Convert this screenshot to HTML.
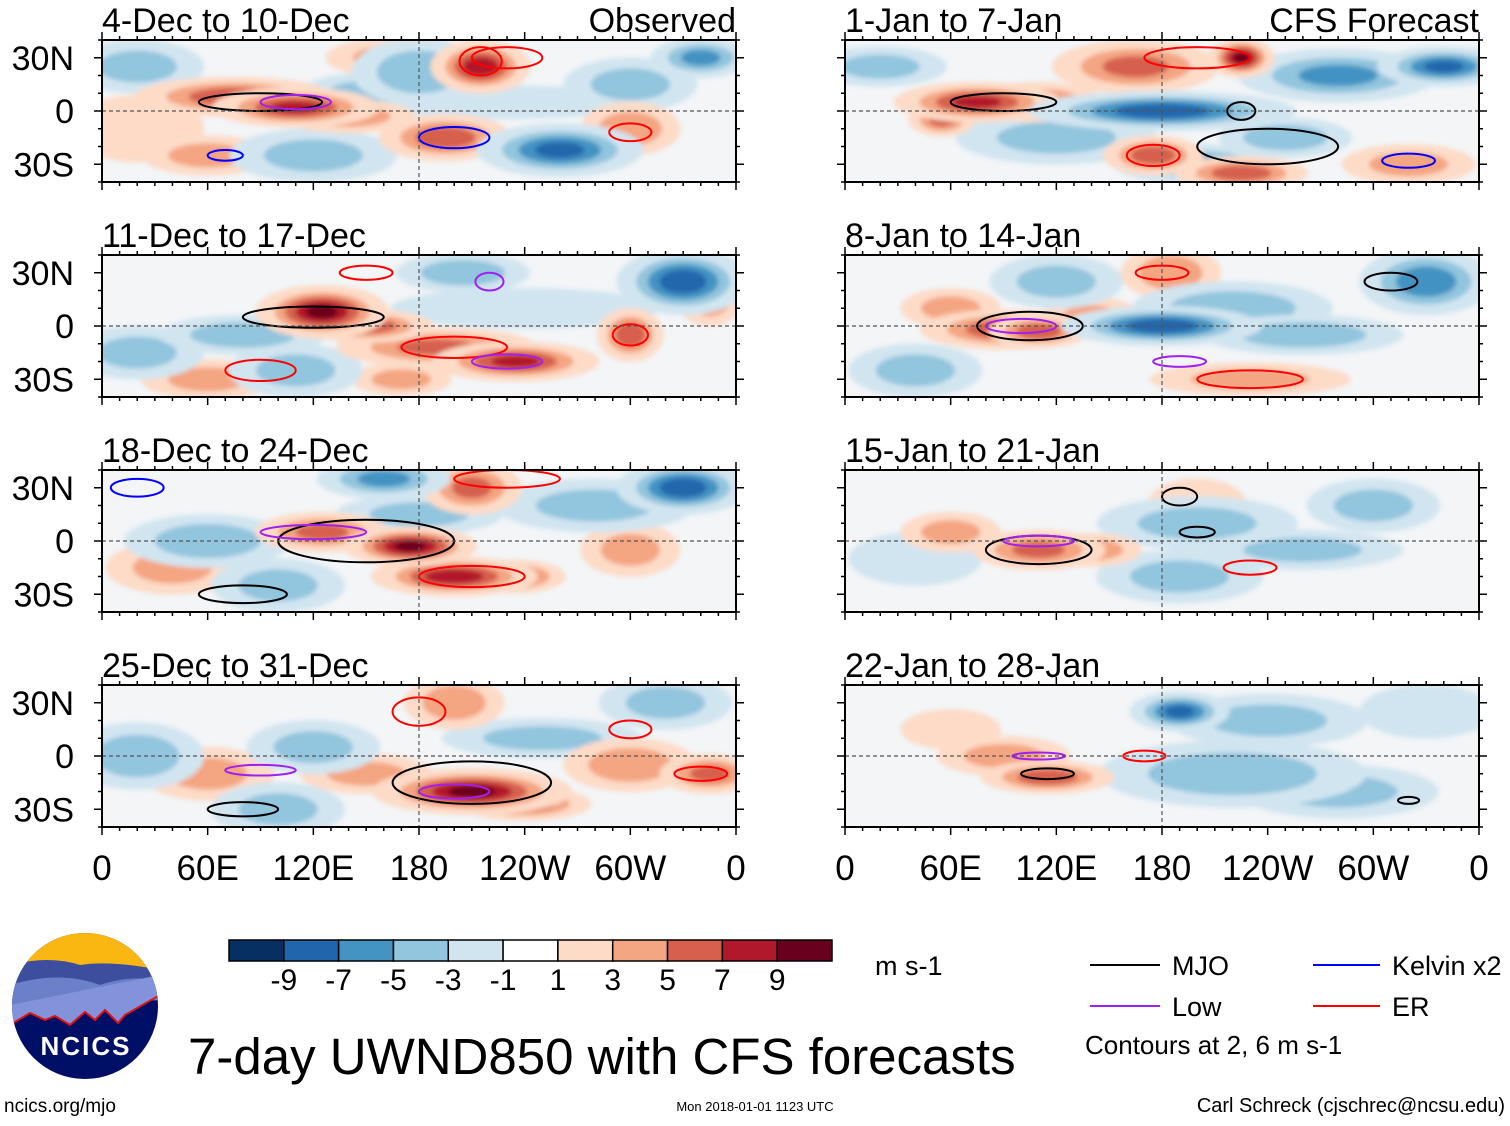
<!DOCTYPE html>
<html><head><meta charset="utf-8"><style>
body{margin:0;background:#fff;width:1510px;height:1121px;overflow:hidden;font-family:"Liberation Sans",sans-serif}
svg text{font-family:"Liberation Sans",sans-serif}
</style></head><body>
<svg id="fig" width="1510" height="1121" xmlns="http://www.w3.org/2000/svg">
<defs><filter id="bl" x="-50%" y="-50%" width="200%" height="200%"><feGaussianBlur stdDeviation="2.5"/></filter>
<clipPath id="logoclip"><circle cx="85" cy="1006" r="73"/></clipPath></defs>
<g id="panels"></g>
<g clip-path="url(#logoclip)">
<rect x="10" y="930" width="150" height="160" fill="#000f66"/>
<rect x="10" y="930" width="150" height="45" fill="#fbb711"/>
<path d="M10 965 Q50 955 80 965 Q110 960 160 970 L160 1000 L10 1000Z" fill="#3d4e9e"/>
<path d="M10 985 Q60 970 100 985 Q130 975 160 980 L160 1000 L10 1010Z" fill="#6c7fc9"/>
<path d="M10 1025 L30 1013 L45 1020 L55 1016 L70 1025 L85 1012 L95 1020 L105 1010 L118 1023 L125 1015 L160 995 L160 975 L10 1005Z" fill="#8293db"/>
<path d="M10 1025 L30 1013 L45 1020 L55 1016 L70 1025 L85 1012 L95 1020 L105 1010 L118 1023 L125 1015 L160 995" fill="none" stroke="#e01010" stroke-width="2"/>
</g>
<text x="86" y="1055" text-anchor="middle" font-size="26" font-weight="bold" fill="#fff" letter-spacing="2">NCICS</text>
<g id="cbar"></g>
<text x="875" y="975" font-size="27">m s-1</text>
<g>
<line x1="1090" y1="965" x2="1160" y2="965" stroke="#000" stroke-width="2"/><text x="1172" y="975" font-size="27">MJO</text>
<line x1="1090" y1="1006" x2="1160" y2="1006" stroke="#a020f0" stroke-width="2"/><text x="1172" y="1016" font-size="27">Low</text>
<line x1="1313" y1="965" x2="1380" y2="965" stroke="#0000ff" stroke-width="2"/><text x="1392" y="975" font-size="27">Kelvin x2</text>
<line x1="1313" y1="1006" x2="1380" y2="1006" stroke="#ff0000" stroke-width="2"/><text x="1392" y="1016" font-size="27">ER</text>
<text x="1085" y="1054" font-size="26">Contours at 2, 6 m s-1</text>
</g>
<text x="188" y="1074" font-size="51">7-day UWND850 with CFS forecasts</text>
<text x="4" y="1112" font-size="19">ncics.org/mjo</text>
<text x="755" y="1111" font-size="13" text-anchor="middle">Mon 2018-01-01 1123 UTC</text>
<text x="1505" y="1112" font-size="20" text-anchor="end">Carl Schreck (cjschrec@ncsu.edu)</text>
</svg>
<script>
const NS="http://www.w3.org/2000/svg";
const titles=["4-Dec to 10-Dec","11-Dec to 17-Dec","18-Dec to 24-Dec","25-Dec to 31-Dec","1-Jan to 7-Jan","8-Jan to 14-Jan","15-Jan to 21-Jan","22-Jan to 28-Jan"];
const lonTicks=[0,60,120,180,240,300,360];
const lonLabels=["0","60E","120E","180","120W","60W","0"];
const latTicks=[30,0,-30];
const latLabels=["30N","0","30S"];
const levels=[-9,-7,-5,-3,-1,1,3,5,7,9];
const cbColors=["#053061","#2166ac","#4393c3","#92c5de","#d1e5f0","#ffffff","#fddbc7","#f4a582","#d6604d","#b2182b","#67001f"];
// anomaly blobs: [lon, lat, lonRadius, latRadius, value m/s]
const blobs0=[[75,8,30,6,6],[110,2,25,6,7],[140,-3,20,5,4],[215,25,15,8,8],[195,-15,20,7,6],[250,-25,15,5,3],[60,-25,20,6,3],[300,-10,15,8,4],[20,-10,20,10,2],[165,30,20,6,3],[260,-22,25,8,-7],[180,22,20,10,-4],[150,10,20,6,-3],[340,30,15,6,-5],[120,-25,25,8,-3],[300,15,20,8,-3],[20,25,20,8,-3],[230,5,40,5,-2]];
const blobs1=[[125,8,20,8,9],[150,0,20,5,6],[190,-12,30,6,5],[235,-20,25,6,7],[300,-5,10,8,6],[345,15,10,8,4],[60,-30,20,6,3],[170,-30,15,5,3],[330,25,20,10,-8],[205,30,20,6,-4],[80,-5,25,6,-4],[20,-15,20,8,-3],[240,10,40,6,-2],[110,-25,20,8,-3]];
const blobs2=[[175,-3,20,6,9],[200,-20,25,6,8],[235,-20,15,5,6],[125,5,20,6,5],[210,30,15,8,5],[300,-5,15,8,3],[40,-15,20,8,3],[330,30,20,8,-8],[160,35,20,6,-5],[60,0,25,8,-4],[100,-25,20,8,-3],[280,20,30,8,-3],[180,15,25,6,-3]];
const blobs3=[[210,-20,30,7,9],[240,-27,20,5,6],[300,-5,20,8,4],[345,-10,15,6,5],[200,30,15,8,4],[60,-10,20,8,3],[150,-10,20,6,3],[20,0,20,10,-4],[120,5,20,8,-3],[250,10,30,6,-3],[320,30,20,8,-3],[100,-30,20,8,-3]];
const blobs4=[[75,5,25,6,7],[110,5,20,6,5],[225,30,10,6,9],[165,25,25,8,5],[175,-25,15,6,6],[225,-35,20,5,6],[55,-5,10,5,5],[320,-30,20,6,3],[180,0,40,6,-8],[280,20,30,8,-5],[340,25,20,6,-7],[200,-30,25,6,-5],[250,-15,20,6,-4],[120,-15,30,8,-3],[20,25,20,6,-3]];
const blobs5=[[90,-2,25,6,6],[110,-3,15,5,6],[140,5,15,6,3],[185,30,15,8,4],[60,10,15,6,3],[230,-30,30,5,3],[180,0,30,6,-8],[330,25,20,10,-6],[220,10,30,8,-4],[260,-5,30,6,-4],[40,-25,20,8,-3],[120,25,20,8,-3]];
const blobs6=[[110,-5,20,6,5],[140,-5,15,5,4],[60,5,15,6,3],[200,20,15,8,2],[200,10,30,8,-3],[260,-5,30,6,-3],[300,20,20,8,-3],[190,-20,25,8,-3],[40,-10,20,8,-2]];
const blobs7=[[115,-12,20,5,6],[90,0,20,6,3],[60,15,15,6,2],[190,25,15,6,-7],[220,-10,40,10,-4],[280,-20,30,8,-3],[240,20,30,8,-3],[330,25,20,8,-2]];
const allBlobs=[blobs0,blobs1,blobs2,blobs3,blobs4,blobs5,blobs6,blobs7];
// contours: [lon, lat, lonRadius, latRadius, type]
const contours=[
 [[90,5,35,5,"mjo"],[215,28,12,8,"er"],[200,-15,20,6,"kel"],[110,5,20,4,"low"],[70,-25,10,3,"kel"],[230,30,20,6,"er"],[300,-12,12,5,"er"]],
 [[120,5,40,6,"mjo"],[200,-12,30,6,"er"],[230,-20,20,4,"low"],[300,-5,10,6,"er"],[150,30,15,4,"er"],[90,-25,20,6,"er"],[220,25,8,5,"low"]],
 [[150,0,50,12,"mjo"],[210,-20,30,6,"er"],[120,5,30,4,"low"],[230,35,30,5,"er"],[80,-30,25,5,"mjo"],[20,30,15,5,"kel"]],
 [[210,-15,45,12,"mjo"],[200,-20,20,4,"low"],[180,25,15,8,"er"],[90,-8,20,3,"low"],[340,-10,15,4,"er"],[80,-30,20,4,"mjo"],[300,15,12,5,"er"]],
 [[200,30,30,6,"er"],[90,5,30,5,"mjo"],[175,-25,15,6,"er"],[240,-20,40,10,"mjo"],[320,-28,15,4,"kel"],[225,0,8,5,"mjo"]],
 [[105,0,30,8,"mjo"],[100,0,20,4,"low"],[180,30,15,4,"er"],[310,25,15,5,"mjo"],[230,-30,30,5,"er"],[190,-20,15,3,"low"]],
 [[110,-5,30,8,"mjo"],[110,0,20,3,"low"],[200,5,10,3,"mjo"],[230,-15,15,4,"er"],[190,25,10,5,"mjo"]],
 [[115,-10,15,3,"mjo"],[110,0,15,2,"low"],[170,0,12,3,"er"],[320,-25,6,2,"mjo"]]];
const cColor={mjo:"#000",low:"#a020f0",kel:"#0000ff",er:"#ff0000"};
const lefts=[102,845], W=634, H=142, tops=[40,255,470,685];
function colorFor(v){let i=0;while(i<levels.length&&v>levels[i])i++;return cbColors[i];}
function el(t,a,p){const e=document.createElementNS(NS,t);for(const k in a)e.setAttribute(k,a[k]);p.appendChild(e);return e;}
const panels=document.getElementById("panels");
for(let p=0;p<8;p++){
 const col=p<4?0:1,row=p%4,x0=lefts[col],y0=tops[row];
 const X=lon=>x0+lon/360*W, Y=lat=>y0+(40-lat)/80*H;
 const g=el("g",{},panels);
 
 
 const cp=el("clipPath",{id:"c"+p},g);el("rect",{x:x0,y:y0,width:W,height:H},cp);
 el("rect",{x:x0,y:y0,width:W,height:H,fill:"#f3f5f7"},g);
 const f=el("g",{"clip-path":"url(#c"+p+")"},g);
 const fb=el("g",{filter:"url(#bl)"},f);
 const bl=allBlobs[p].slice().sort((a,b)=>Math.abs(a[4])-Math.abs(b[4]));
 for(const b of bl){
  const av=Math.abs(b[4]),s=Math.sign(b[4]);
  const e0=el("ellipse",{cx:X(b[0]),cy:Y(b[1]),rx:b[2]/360*W*1.9,ry:b[3]/80*H*1.9,fill:colorFor(s*2)},fb);
  
  
  for(let l=3;l<=av;l+=2){
   const sc=1.5*(1-(l-2)/(av+1));
   const e=el("ellipse",{cx:X(b[0]),cy:Y(b[1]),rx:b[2]/360*W*sc,ry:b[3]/80*H*sc,fill:colorFor(s*(l+1))},fb);
   
   
  }
 }
 for(const c of contours[p]){
  const e=el("ellipse",{cx:X(c[0]),cy:Y(c[1]),rx:c[2]/360*W,ry:c[3]/80*H,fill:"none",stroke:cColor[c[4]],"stroke-width":2},f);
  
  
 }
 el("line",{x1:x0,x2:x0+W,y1:Y(0),y2:Y(0),stroke:"#555","stroke-dasharray":"4,3","stroke-width":1.2},g);
 el("line",{x1:X(180),x2:X(180),y1:y0,y2:y0+H,stroke:"#555","stroke-dasharray":"4,3","stroke-width":1.2},g);
 el("rect",{x:x0,y:y0,width:W,height:H,fill:"none",stroke:"#000","stroke-width":2},g);
 for(let lon=0;lon<=360;lon+=10){const L=lon%60==0?8:4;
  el("line",{x1:X(lon),x2:X(lon),y1:y0,y2:y0-L,stroke:"#000","stroke-width":1.5},g);
  el("line",{x1:X(lon),x2:X(lon),y1:y0+H,y2:y0+H+L,stroke:"#000","stroke-width":1.5},g);}
 for(let lat=-40;lat<=40;lat+=10){const L=lat%30==0?8:4;
  el("line",{x1:x0,x2:x0-L,y1:Y(lat),y2:Y(lat),stroke:"#000","stroke-width":1.5},g);
  el("line",{x1:x0+W,x2:x0+W+L,y1:Y(lat),y2:Y(lat),stroke:"#000","stroke-width":1.5},g);}
 const t=el("text",{x:x0,y:y0-8,"font-size":34},g);t.textContent=titles[p];
 
 
 if(row==0){const r=el("text",{x:x0+W,y:y0-8,"font-size":34,"text-anchor":"end"},g);r.textContent=col==0?"Observed":"CFS Forecast";
  
  }
 if(col==0)latTicks.forEach((lt,i)=>{const tx=el("text",{x:74,y:Y(lt)+12,"font-size":34,"text-anchor":"end"},g);tx.textContent=latLabels[i];
  
  });
 if(row==3)lonTicks.forEach((ln,i)=>{const tx=el("text",{x:X(ln),y:880,"font-size":35,"text-anchor":"middle"},g);tx.textContent=lonLabels[i];
  
  });
}
const cb=document.getElementById("cbar"),bw=603/11;
cbColors.forEach((c,i)=>{const r=el("rect",{x:229+i*bw,y:940,width:bw,height:21,fill:c,stroke:"#000","stroke-width":1.5},cb);
 
 });
levels.forEach((v,i)=>{const t=el("text",{x:229+(i+1)*bw,y:990,"font-size":30,"text-anchor":"middle"},cb);t.textContent=v;
 
 });
</script>
</body></html>
